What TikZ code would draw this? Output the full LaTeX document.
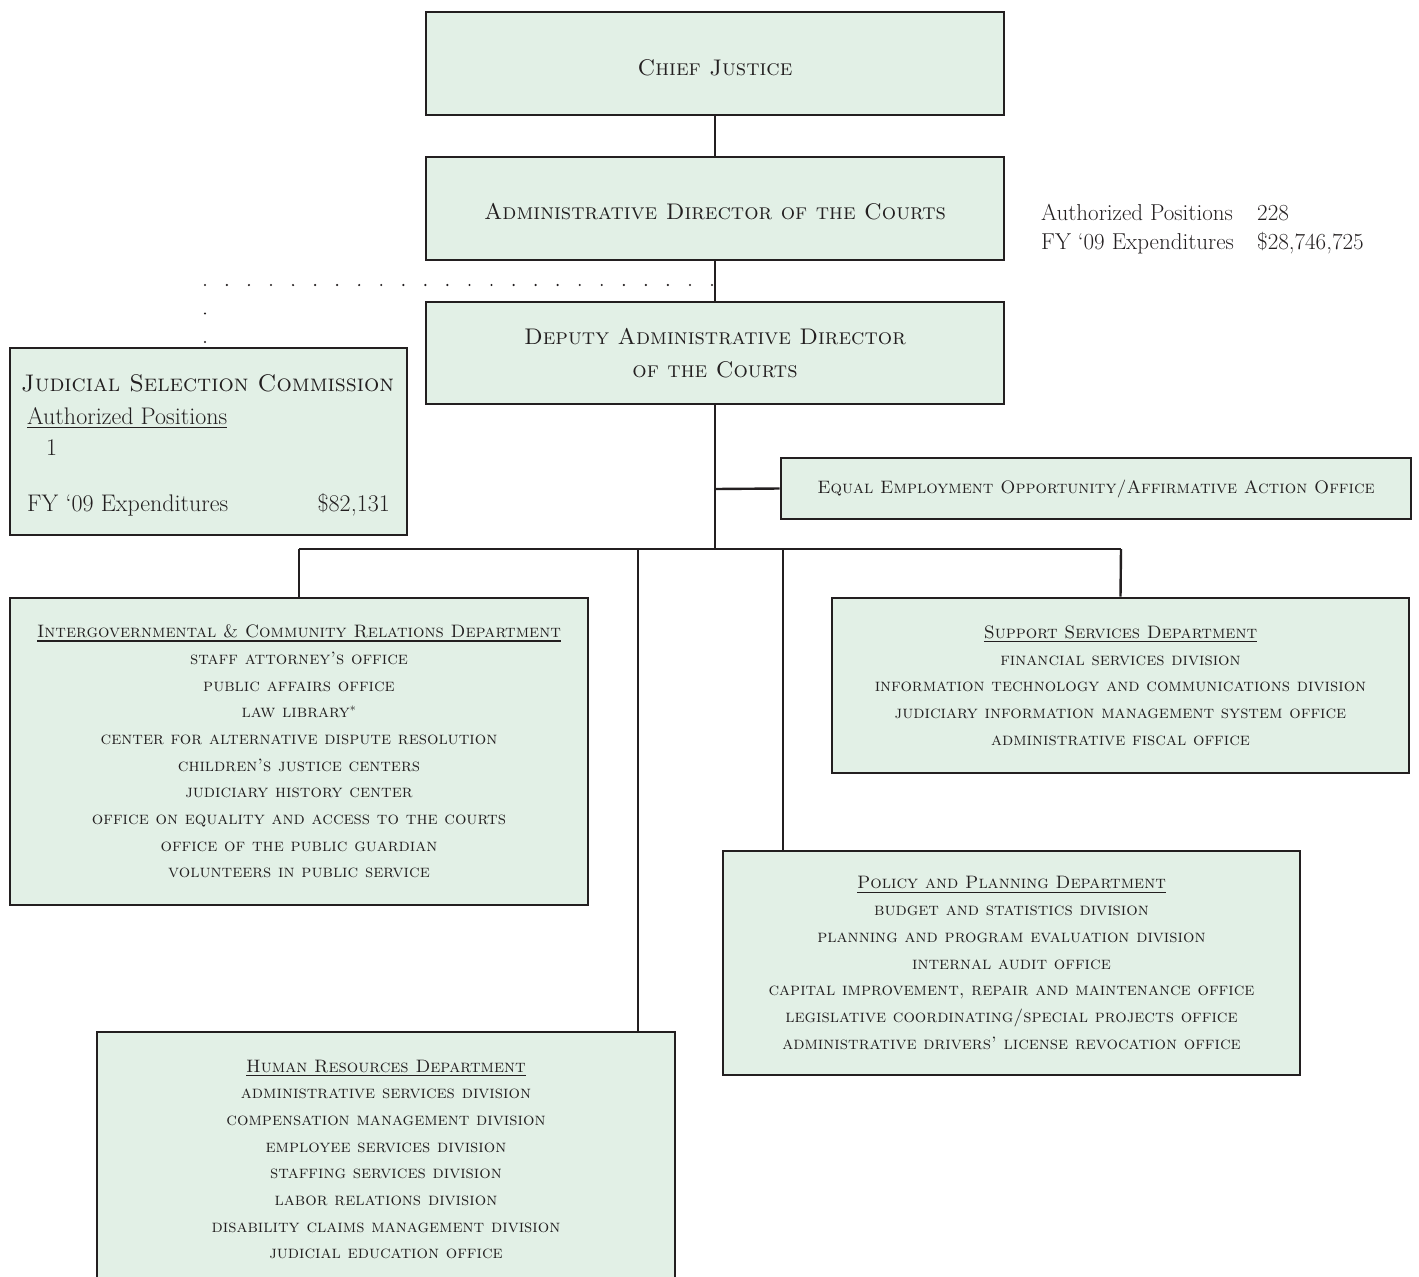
\documentclass[tikz,border=0pt]{standalone}
\usepackage{fontspec}
\definecolor{boxfill}{RGB}{226,240,230}
\definecolor{ink}{RGB}{35,31,32}
\newcommand\hdfont{\fontsize{22.6}{33}\selectfont}
\newcommand\itfont{\fontsize{18}{26.7}\selectfont}
\newcommand\infont{\fontsize{23}{29}\selectfont}
\newcommand\jsfont{\fontsize{24}{30}\selectfont}
\newcommand\myul[1]{\setbox0\hbox{#1}\rlap{\rule[-4pt]{\wd0}{1.3pt}}\box0}
\begin{document}
\begin{tikzpicture}[x=1pt,y=-1pt,
  box/.style={draw=ink, fill=boxfill, line width=2.8pt, inner sep=0pt, text=ink, align=center},
  conn/.style={draw=ink, line width=2.4pt},
  dots/.style={draw=ink, line width=2.4pt, line cap=round},
  info/.style={text=ink, inner sep=0pt, anchor=base west, font=\infont}]
\useasboundingbox (0,0) rectangle (1419,1277);
% top chain
\node[box, minimum width=578, minimum height=103, font=\hdfont] (cj) at (715,63.5) {\raisebox{-12pt}[0pt][0pt]{\textsc{Chief Justice}}};
\node[box, minimum width=578, minimum height=103, font=\hdfont] (ad) at (715,208.5) {\raisebox{-10.5pt}[0pt][0pt]{\textsc{Administrative Director of the Courts}}};
\node[box, minimum width=578, minimum height=102, font=\hdfont] (dp) at (715,353) {\textsc{Deputy Administrative Director}\\\textsc{of the Courts}};
% info text
\node[info] (ap) at (1041,220) {Authorized Positions};
\node[info] (apn) at (1257,220) {228};
\node[info] (fy) at (1041,249) {FY ‘09 Expenditures};
\node[info] (fyn) at (1257,249) {\$28,746,725};
% judicial selection commission
\node[box, minimum width=397, minimum height=187] (jsc) at (208.5,441.5) {};
\node[info, font=\jsfont] (jsct) at (21,391) {\textsc{Judicial Selection Commission}};
\node[info, font=\jsfont] (jsca) at (27,424) {\myul{Authorized Positions}};
\node[info, font=\jsfont] (jscn) at (46,455) {1};
\node[info, font=\jsfont] (jscf) at (27,511) {FY ‘09 Expenditures};
\node[info, font=\jsfont, anchor=base east] (jscv) at (390,511) {\$82,131};
% EEO
\node[box, minimum width=630, minimum height=61, font=\itfont] (eeo) at (1096,488.5) {\textsc{Equal Employment Opportunity/Affirmative Action Office}};
% departments
\node[box, minimum width=578, minimum height=307, font=\itfont] (icr) at (299,751.5) {%
\myul{\textsc{Intergovernmental \& Community Relations Department}}\\
\textsc{staff attorney's office}\\
\textsc{public affairs office}\\
\textsc{law library}$^{*}$\\
\textsc{center for alternative dispute resolution}\\
\textsc{children's justice centers}\\
\textsc{judiciary history center}\\
\textsc{office on equality and access to the courts}\\
\textsc{office of the public guardian}\\
\textsc{volunteers in public service}};
\node[box, minimum width=577, minimum height=175, font=\itfont] (sup) at (1120.5,685.5) {%
\myul{\textsc{Support Services Department}}\\
\textsc{financial services division}\\
\textsc{information technology and communications division}\\
\textsc{judiciary information management system office}\\
\textsc{administrative fiscal office}};
\node[box, minimum width=577, minimum height=224, font=\itfont] (pol) at (1011.5,963) {%
\myul{\textsc{Policy and Planning Department}}\\
\textsc{budget and statistics division}\\
\textsc{planning and program evaluation division}\\
\textsc{internal audit office}\\
\textsc{capital improvement, repair and maintenance office}\\
\textsc{legislative coordinating/special projects office}\\
\textsc{administrative drivers' license revocation office}};
\node[box, minimum width=578, minimum height=255, font=\itfont] (hr) at (386,1159.5) {%
\myul{\textsc{Human Resources Department}}\\
\textsc{administrative services division}\\
\textsc{compensation management division}\\
\textsc{employee services division}\\
\textsc{staffing services division}\\
\textsc{labor relations division}\\
\textsc{disability claims management division}\\
\textsc{judicial education office}};
% connectors
\coordinate (dj) at (712,285);
\coordinate (dc) at (205,285);
\coordinate (ej) at (715,489);
\coordinate (bus) at (715,549);
\coordinate (bl) at (299,549);
\coordinate (br) at (1121,549);
\coordinate (hx) at (638,549);
\coordinate (px) at (783,549);
\draw[conn] (cj.south) -- (ad.north);
\draw[conn] (ad.south) -- (dp.north);
\draw[dots, dash pattern=on 0pt off 22.05pt] (dj) -- (dc);
\draw[dots, dash pattern=on 0pt off 28.5pt] (dc) -- (dc |- jsc.north);
\draw[conn] (dp.south) -- (bus);
\draw[conn] (ej) -- (eeo.west);
\draw[conn] (bl) -- (br);
\draw[conn] (bl) -- (icr.north);
\draw[conn] (br) -- (sup.north);
\draw[conn] (hx) -- (hx |- hr.north);
\draw[conn] (px) -- (px |- pol.north);
\end{tikzpicture}
\end{document}
